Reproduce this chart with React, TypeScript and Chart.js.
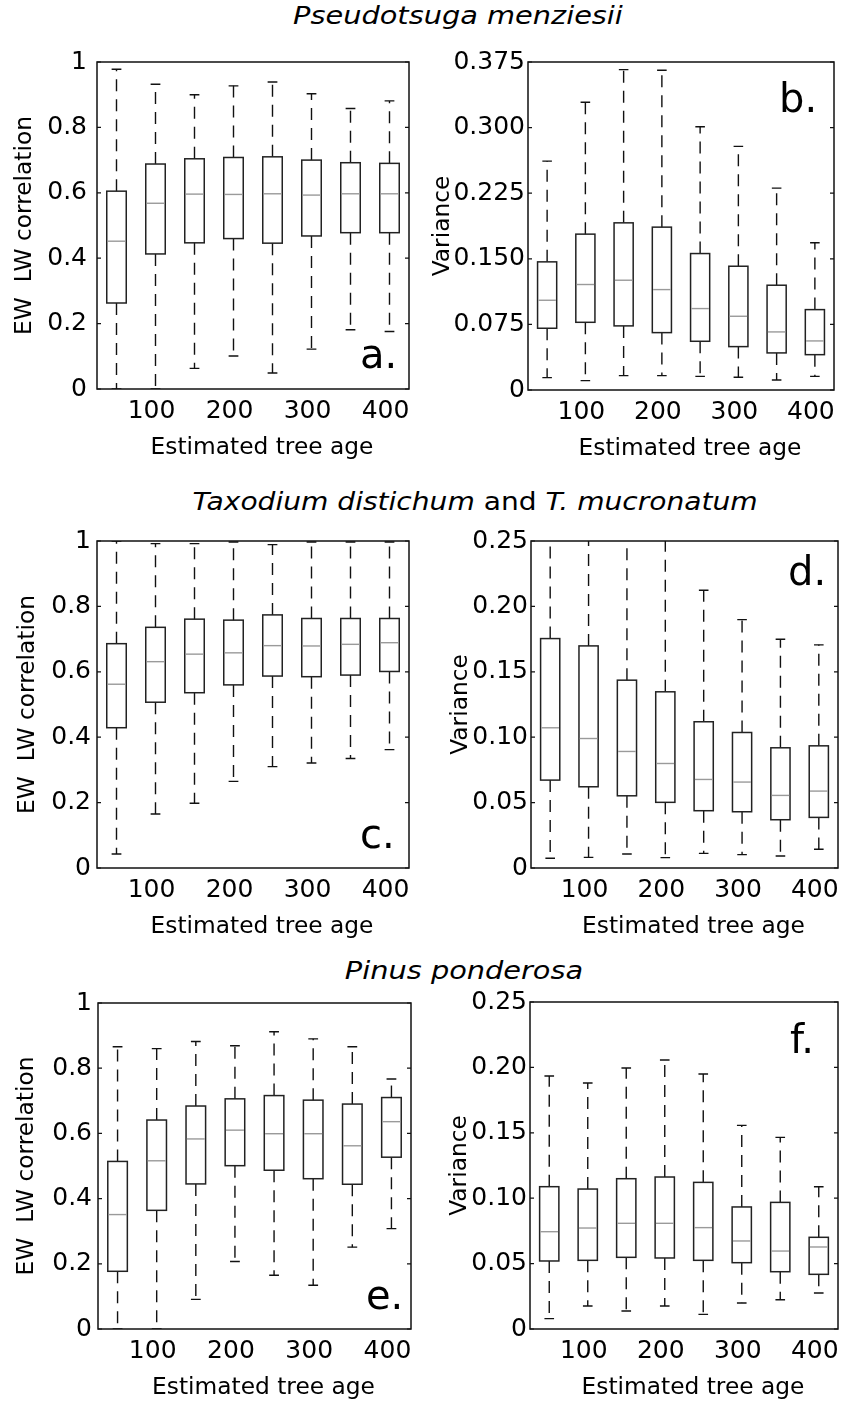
import React, { useEffect, useRef } from "react";
import { Chart, registerables } from "chart.js";

Chart.register(...registerables);

const FONT = "'DejaVu Sans', sans-serif";

// ---------- shared axis data ----------
const ages = [50, 100, 150, 200, 250, 300, 350, 400];
const xTickValues = [100, 200, 300, 400];
const xTickLabels = ["100", "200", "300", "400"];
const X_TITLE = "Estimated tree age";

const corrTicks = [0, 0.2, 0.4, 0.6, 0.8, 1];
const corrTickLabels = ["0", "0.2", "0.4", "0.6", "0.8", "1"];
const varTicksB = [0, 0.075, 0.15, 0.225, 0.3, 0.375];
const varTickLabelsB = ["0", "0.075", "0.150", "0.225", "0.300", "0.375"];
const varTicksDF = [0, 0.05, 0.1, 0.15, 0.2, 0.25];
const varTickLabelsDF = ["0", "0.05", "0.10", "0.15", "0.20", "0.25"];

// ---------- panel a: Pseudotsuga, correlation ----------
const aLow = [0, 0, 0.063, 0.101, 0.049, 0.122, 0.181, 0.176];
const aQ1 = [0.263, 0.413, 0.447, 0.46, 0.446, 0.468, 0.478, 0.478];
const aMed = [0.452, 0.568, 0.596, 0.595, 0.597, 0.593, 0.597, 0.597];
const aQ3 = [0.605, 0.688, 0.704, 0.708, 0.71, 0.7, 0.692, 0.69];
const aHigh = [0.978, 0.932, 0.9, 0.927, 0.939, 0.903, 0.858, 0.881];

// ---------- panel b: Pseudotsuga, variance ----------
const bLow = [0.0141, 0.0107, 0.0164, 0.0164, 0.0156, 0.0145, 0.0114, 0.0156];
const bQ1 = [0.0706, 0.0774, 0.0733, 0.0656, 0.0557, 0.0496, 0.0424, 0.0404];
const bMed = [0.1026, 0.1206, 0.1255, 0.1148, 0.0931, 0.0843, 0.0664, 0.0561];
const bQ3 = [0.1465, 0.1782, 0.1911, 0.1862, 0.156, 0.1415, 0.1198, 0.0919];
const bHigh = [0.2617, 0.3289, 0.3663, 0.3655, 0.301, 0.2785, 0.2308, 0.1683];

// ---------- panel c: Taxodium, correlation ----------
const cLow = [0.043, 0.165, 0.198, 0.265, 0.31, 0.321, 0.335, 0.362];
const cQ1 = [0.429, 0.507, 0.536, 0.56, 0.587, 0.585, 0.59, 0.601];
const cMed = [0.562, 0.631, 0.654, 0.658, 0.68, 0.679, 0.684, 0.689];
const cQ3 = [0.686, 0.736, 0.761, 0.758, 0.774, 0.763, 0.763, 0.763];
const cHigh = [1.0, 0.992, 0.992, 0.997, 0.989, 0.997, 0.997, 0.997];

// ---------- panel d: Taxodium, variance ----------
const dLow = [0.0074, 0.0081, 0.0107, 0.0079, 0.0112, 0.0102, 0.0092, 0.0143];
const dQ1 = [0.0672, 0.0621, 0.0552, 0.0502, 0.0438, 0.043, 0.0369, 0.0387];
const dMed = [0.1072, 0.099, 0.0891, 0.0799, 0.0677, 0.0657, 0.0555, 0.0588];
const dQ3 = [0.1754, 0.1698, 0.1436, 0.1347, 0.1118, 0.1036, 0.0919, 0.0934];
const dHigh = [0.255, 0.3, 0.28, 0.26, 0.2123, 0.1899, 0.1749, 0.1706];

// ---------- panel e: Pinus, correlation ----------
const eLow = [0, 0, 0.091, 0.207, 0.165, 0.134, 0.251, 0.308];
const eQ1 = [0.177, 0.364, 0.445, 0.501, 0.487, 0.461, 0.444, 0.527];
const eMed = [0.351, 0.516, 0.583, 0.61, 0.599, 0.599, 0.562, 0.636];
const eQ3 = [0.514, 0.641, 0.684, 0.706, 0.716, 0.702, 0.69, 0.71];
const eHigh = [0.866, 0.86, 0.882, 0.869, 0.912, 0.89, 0.866, 0.767];

// ---------- panel f: Pinus, variance ----------
const fLow = [0.0079, 0.0176, 0.0138, 0.0176, 0.0112, 0.0199, 0.0224, 0.0275];
const fQ1 = [0.052, 0.0525, 0.0548, 0.0543, 0.0525, 0.0507, 0.0438, 0.0418];
const fMed = [0.0744, 0.0772, 0.0808, 0.0808, 0.0775, 0.0673, 0.0596, 0.0627];
const fQ3 = [0.1088, 0.107, 0.1149, 0.1162, 0.1121, 0.0933, 0.0968, 0.0701];
const fHigh = [0.1934, 0.1881, 0.1995, 0.2057, 0.195, 0.1557, 0.1465, 0.1088];

const BOX_HALF = 12.5; // half box width in x (age) units

type Panel = {
  label: string;
  low: number[];
  q1: number[];
  med: number[];
  q3: number[];
  high: number[];
  yMax: number;
  yTicks: number[];
  yTickLabels: string[];
  yTitle: string;
  plot: { L: number; T: number; R: number; B: number };
  yTitleX: number;
  yTickPad: number;
  labelOff: number;
  labelBase: number; // baseline offset: positive from top, negative from bottom
};

const CORR_TITLE = "EW  LW correlation";
const VAR_TITLE = "Variance";

const panels: Panel[] = [
  { label: "a.", low: aLow, q1: aQ1, med: aMed, q3: aQ3, high: aHigh, yMax: 1, yTicks: corrTicks, yTickLabels: corrTickLabels, yTitle: CORR_TITLE, plot: { L: 97, T: 62, R: 409, B: 389 }, yTitleX: 25, yTickPad: 10, labelOff: 49, labelBase: -21 },
  { label: "b.", low: bLow, q1: bQ1, med: bMed, q3: bQ3, high: bHigh, yMax: 0.375, yTicks: varTicksB, yTickLabels: varTickLabelsB, yTitle: VAR_TITLE, plot: { L: 528, T: 62, R: 834, B: 390 }, yTitleX: 443, yTickPad: 3, labelOff: 55, labelBase: 50 },
  { label: "c.", low: cLow, q1: cQ1, med: cMed, q3: cQ3, high: cHigh, yMax: 1, yTicks: corrTicks, yTickLabels: corrTickLabels, yTitle: CORR_TITLE, plot: { L: 97, T: 541, R: 409, B: 868 }, yTitleX: 28, yTickPad: 6, labelOff: 49, labelBase: -20 },
  { label: "d.", low: dLow, q1: dQ1, med: dMed, q3: dQ3, high: dHigh, yMax: 0.25, yTicks: varTicksDF, yTickLabels: varTickLabelsDF, yTitle: VAR_TITLE, plot: { L: 531, T: 541, R: 838, B: 868 }, yTitleX: 461, yTickPad: 3, labelOff: 50, labelBase: 44 },
  { label: "e.", low: eLow, q1: eQ1, med: eMed, q3: eQ3, high: eHigh, yMax: 1, yTicks: corrTicks, yTickLabels: corrTickLabels, yTitle: CORR_TITLE, plot: { L: 98, T: 1003, R: 411, B: 1329 }, yTitleX: 27, yTickPad: 6, labelOff: 45, labelBase: -20 },
  { label: "f.", low: fLow, q1: fQ1, med: fMed, q3: fQ3, high: fHigh, yMax: 0.25, yTicks: varTicksDF, yTickLabels: varTickLabelsDF, yTitle: VAR_TITLE, plot: { L: 530, T: 1002, R: 838, B: 1329 }, yTitleX: 460, yTickPad: 3, labelOff: 48, labelBase: 51 },
];

const PAD_TOP = 25;
const PAD_RIGHT = 20;
const X_AXIS_H = 74;
const TICK_SIZE = 25;
const AXIS_TITLE_SIZE = 23.3;
const TITLE_LH = AXIS_TITLE_SIZE * 1.2;
const X_TITLE_SHIFT = 9;

function BoxPanel({ p }: { p: Panel }) {
  const ref = useRef<HTMLCanvasElement>(null);
  const left = Math.round(p.yTitleX - TITLE_LH / 2 - 2);
  const top = p.plot.T - PAD_TOP;
  const width = p.plot.R - left + PAD_RIGHT;
  const height = p.plot.B - p.plot.T + PAD_TOP + X_AXIS_H;

  useEffect(() => {
    if (!ref.current) return;
    const boxPlugin = {
      id: "boxes",
      afterDraw(chart: any) {
        const { ctx, chartArea: ca, scales } = chart;
        const xs = scales.x;
        const ys = scales.y;
        ctx.save();
        ctx.beginPath();
        ctx.rect(ca.left, ca.top, ca.right - ca.left, ca.bottom - ca.top);
        ctx.clip();
        for (let i = 0; i < ages.length; i++) {
          const x = xs.getPixelForValue(ages[i]);
          const hw = xs.getPixelForValue(ages[i] + BOX_HALF) - x;
          const cw = hw / 2;
          const yLo = ys.getPixelForValue(p.low[i]);
          const yQ1 = ys.getPixelForValue(p.q1[i]);
          const yMed = ys.getPixelForValue(p.med[i]);
          const yQ3 = ys.getPixelForValue(p.q3[i]);
          const yHi = ys.getPixelForValue(p.high[i]);
          // whiskers
          ctx.strokeStyle = "#111";
          ctx.lineWidth = 1.4;
          ctx.setLineDash([12, 8]);
          ctx.beginPath();
          ctx.moveTo(x, yQ3);
          ctx.lineTo(x, yHi);
          ctx.stroke();
          ctx.beginPath();
          ctx.moveTo(x, yQ1);
          ctx.lineTo(x, yLo);
          ctx.stroke();
          ctx.setLineDash([]);
          // caps
          ctx.beginPath();
          ctx.moveTo(x - cw, yHi);
          ctx.lineTo(x + cw, yHi);
          ctx.moveTo(x - cw, yLo);
          ctx.lineTo(x + cw, yLo);
          ctx.stroke();
          // box
          ctx.strokeStyle = "#222";
          ctx.lineWidth = 1.5;
          ctx.strokeRect(x - hw, yQ3, 2 * hw, yQ1 - yQ3);
          // median
          ctx.strokeStyle = "#9a9a9a";
          ctx.lineWidth = 1.4;
          ctx.beginPath();
          ctx.moveTo(x - hw + 0.8, yMed);
          ctx.lineTo(x + hw - 0.8, yMed);
          ctx.stroke();
        }
        ctx.restore();

        ctx.save();
        // frame
        ctx.strokeStyle = "#111";
        ctx.lineWidth = 1.5;
        ctx.strokeRect(ca.left, ca.top, ca.right - ca.left, ca.bottom - ca.top);
        // inward y ticks on both sides
        ctx.lineWidth = 1.2;
        ctx.beginPath();
        for (const v of p.yTicks) {
          const y = ys.getPixelForValue(v);
          ctx.moveTo(ca.left, y);
          ctx.lineTo(ca.left + 4, y);
          ctx.moveTo(ca.right - 4, y);
          ctx.lineTo(ca.right, y);
        }
        ctx.stroke();
        // x axis title (slightly right of centre, as in the original)
        ctx.fillStyle = "#000";
        ctx.font = `${AXIS_TITLE_SIZE}px ${FONT}`;
        ctx.textAlign = "center";
        ctx.textBaseline = "middle";
        ctx.fillText(X_TITLE, (ca.left + ca.right) / 2 + X_TITLE_SHIFT, xs.bottom - 1 - TITLE_LH / 2);
        // panel letter
        ctx.font = `40px ${FONT}`;
        ctx.textAlign = "left";
        ctx.textBaseline = "alphabetic";
        const base = p.labelBase >= 0 ? ca.top + p.labelBase : ca.bottom + p.labelBase;
        ctx.fillText(p.label, ca.right - p.labelOff, base);
        ctx.restore();
      },
    };

    const chart = new Chart(ref.current, {
      type: "scatter",
      data: { datasets: [] },
      options: {
        animation: false,
        responsive: false,
        maintainAspectRatio: false,
        devicePixelRatio: 1,
        layout: { padding: { left: 0, top: PAD_TOP, right: PAD_RIGHT, bottom: 0 } },
        plugins: { legend: { display: false }, tooltip: { enabled: false }, title: { display: false } },
        scales: {
          x: {
            type: "linear",
            position: "bottom",
            min: 25,
            max: 425,
            grid: { display: false, drawTicks: false },
            border: { display: false },
            afterBuildTicks: (s: any) => {
              s.ticks = xTickValues.map((v) => ({ value: v }));
            },
            afterFit: (s: any) => {
              s.height = X_AXIS_H;
            },
            ticks: {
              padding: 7,
              labelOffset: -4,
              color: "#000",
              autoSkip: false,
              maxRotation: 0,
              font: { family: FONT, size: TICK_SIZE },
              callback: (v: any) => {
                const k = xTickValues.indexOf(Number(v));
                return k >= 0 ? xTickLabels[k] : "";
              },
            },
            title: { display: false },
          },
          y: {
            type: "linear",
            position: "left",
            min: 0,
            max: p.yMax,
            grid: { display: false, drawTicks: false },
            border: { display: false },
            afterBuildTicks: (s: any) => {
              s.ticks = p.yTicks.map((v) => ({ value: v }));
            },
            afterFit: (s: any) => {
              s.width = p.plot.L - left;
            },
            ticks: {
              padding: p.yTickPad,
              color: "#000",
              autoSkip: false,
              font: { family: FONT, size: TICK_SIZE },
              callback: (v: any) => {
                const k = p.yTicks.findIndex((t) => Math.abs(t - Number(v)) < 1e-9);
                return k >= 0 ? p.yTickLabels[k] : "";
              },
            },
            title: {
              display: true,
              text: p.yTitle,
              color: "#000",
              font: { family: FONT, size: AXIS_TITLE_SIZE },
              padding: { top: 2, bottom: 0 },
            },
          },
        },
      },
      plugins: [boxPlugin],
    } as any);
    return () => chart.destroy();
  }, []);

  return (
    <canvas
      ref={ref}
      width={width}
      height={height}
      style={{ position: "absolute", left, top, width, height }}
    />
  );
}

const titleStyle = (cx: number, baseline: number, stretch: number): React.CSSProperties => ({
  position: "absolute",
  left: cx - 400,
  width: 800,
  top: baseline - 20.3,
  textAlign: "center",
  fontFamily: FONT,
  fontSize: 24,
  lineHeight: "24px",
  color: "#000",
  whiteSpace: "nowrap",
  transform: `scaleX(${stretch})`,
  transformOrigin: "center",
});

export default function App() {
  return (
    <div style={{ position: "absolute", left: 0, top: 0, width: 849, height: 1402, background: "#fff", overflow: "hidden" }}>
      <div style={titleStyle(458, 24, 1.2)}>
        <i>Pseudotsuga menziesii</i>
      </div>
      <div style={titleStyle(475, 510, 1.17)}>
        <i>Taxodium distichum</i> and <i>T. mucronatum</i>
      </div>
      <div style={titleStyle(464, 979, 1.2)}>
        <i>Pinus ponderosa</i>
      </div>
      {panels.map((p) => (
        <BoxPanel key={p.label} p={p} />
      ))}
    </div>
  );
}
